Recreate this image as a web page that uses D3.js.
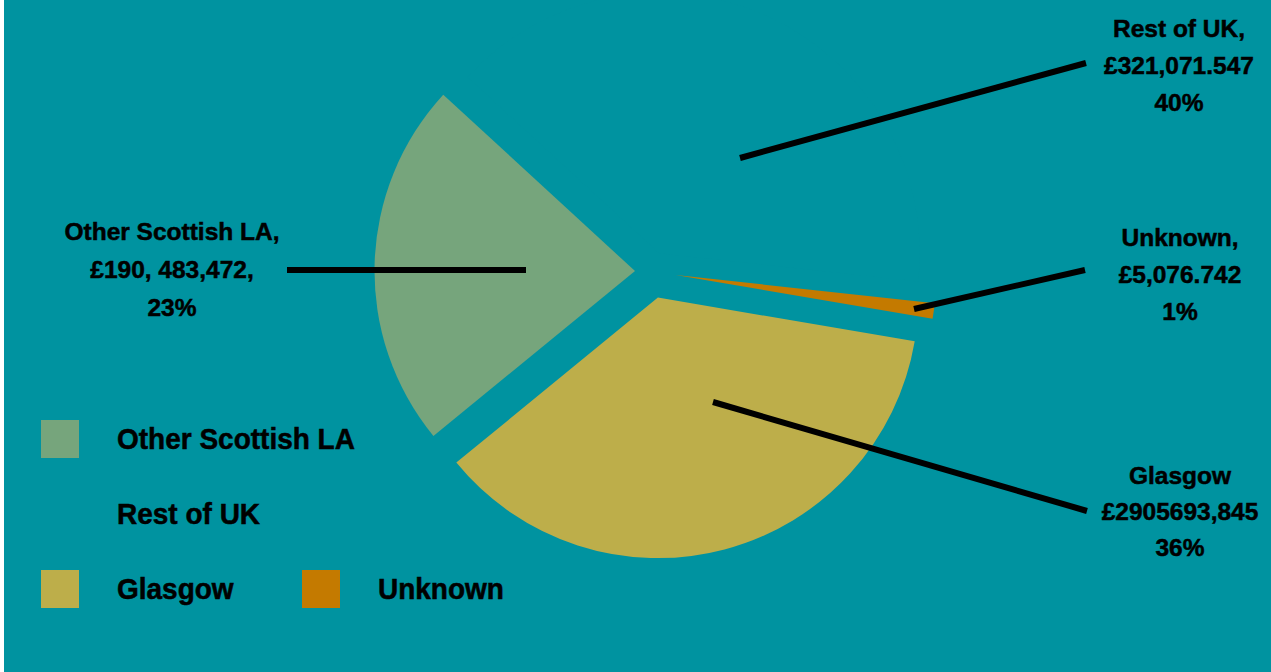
<!DOCTYPE html>
<html>
<head>
<meta charset="utf-8">
<script src="https://cdn.jsdelivr.net/npm/d3@7"></script>
<style>
  html, body { margin: 0; padding: 0; background: #ffffff; }
  svg { display: block; }
  text { font-family: Arial, "Liberation Sans", Helvetica, sans-serif; font-weight: bold; fill: #000; stroke: #000; stroke-width: 0.5px; }
</style>
</head>
<body>
<script>
// ---- data ----
const categories = ["Other Scottish LA", "Rest of UK", "Unknown", "Glasgow"];
const shares = [22.75, 39.9, 0.95, 36.4];           // % shares
const amountLabels = ["£190, 483,472,", "£321,071.547", "£5,076.742", "£2905693,845"];
const nameLabels = ["Other Scottish LA,", "Rest of UK,", "Unknown,", "Glasgow"];
const percentLabels = ["23%", "40%", "1%", "36%"];
const legendOrder = ["Other Scottish LA", "Rest of UK", "Glasgow", "Unknown"];

// ---- styles / layout ----
const W = 1271, H = 672;
const bg = "#0093a0";
const colors = { "Other Scottish LA": "#76a57c", "Rest of UK": "#0093a0", "Unknown": "#c47a00", "Glasgow": "#bdae4a" };
const explode = { "Other Scottish LA": 16, "Rest of UK": 20, "Unknown": 25, "Glasgow": 27 };
const cx = 651, cy = 271.5, R = 260.5;
const startDeg = 230.7;

// label layout: text anchor (center x, first baseline) and leader line
const labelLayout = {
  "Other Scottish LA": { x: 172, y: 240, dy: 38, line: [[287, 270], [526, 270]] },
  "Rest of UK":        { x: 1179, y: 37, dy: 37, line: [[740, 158], [1086, 63]] },
  "Unknown":           { x: 1180, y: 246, dy: 37, line: [[914, 309], [1085, 270]] },
  "Glasgow":           { x: 1180, y: 484, dy: 36, line: [[713, 402], [1087, 511]] }
};
const legendLayout = {
  "Other Scottish LA": { x: 41, y: 420 },
  "Rest of UK":        { x: 41, y: 495 },
  "Glasgow":           { x: 41, y: 570 },
  "Unknown":           { x: 302, y: 570 }
};

const svg = d3.select("body").append("svg").attr("width", W).attr("height", H);
svg.append("rect").attr("x", 4).attr("y", 0).attr("width", W - 4).attr("height", H).attr("fill", bg);

const rad = d => d * Math.PI / 180;
const pie = d3.pie().sort(null).value(d => d.v)
  .startAngle(rad(startDeg)).endAngle(rad(startDeg + 360));
const arc = d3.arc().innerRadius(0).outerRadius(R);

const data = categories.map((c, i) => ({ c, v: shares[i] }));
const arcs = pie(data);

const g = svg.append("g").attr("transform", `translate(${cx},${cy})`);
g.selectAll("path").data(arcs).enter().append("path")
  .attr("d", arc)
  .attr("fill", d => colors[d.data.c])
  .attr("transform", d => {
    const m = (d.startAngle + d.endAngle) / 2;
    const e = explode[d.data.c];
    return `translate(${e * Math.sin(m)},${-e * Math.cos(m)})`;
  });

// leader lines
categories.forEach(c => {
  const L = labelLayout[c];
  svg.append("line")
    .attr("x1", L.line[0][0]).attr("y1", L.line[0][1])
    .attr("x2", L.line[1][0]).attr("y2", L.line[1][1])
    .attr("stroke", "#000").attr("stroke-width", 6);
});

// data labels
categories.forEach((c, i) => {
  const L = labelLayout[c];
  const t = svg.append("text").attr("text-anchor", "middle").style("font-size", "24.5px")
    .attr("xml:space", "preserve");
  [nameLabels[i], amountLabels[i], percentLabels[i]].forEach((s, k) => {
    t.append("tspan").attr("x", L.x).attr("y", L.y + k * L.dy).text(s);
  });
});

// legend
legendOrder.forEach(c => {
  const p = legendLayout[c];
  svg.append("rect").attr("x", p.x).attr("y", p.y).attr("width", 38).attr("height", 38)
    .attr("fill", colors[c]);
  svg.append("text")
    .attr("transform", `translate(${p.x + 76},${p.y + 28.5}) scale(1,1.07)`)
    .style("font-size", "28px").text(c);
});
</script>
</body>
</html>
